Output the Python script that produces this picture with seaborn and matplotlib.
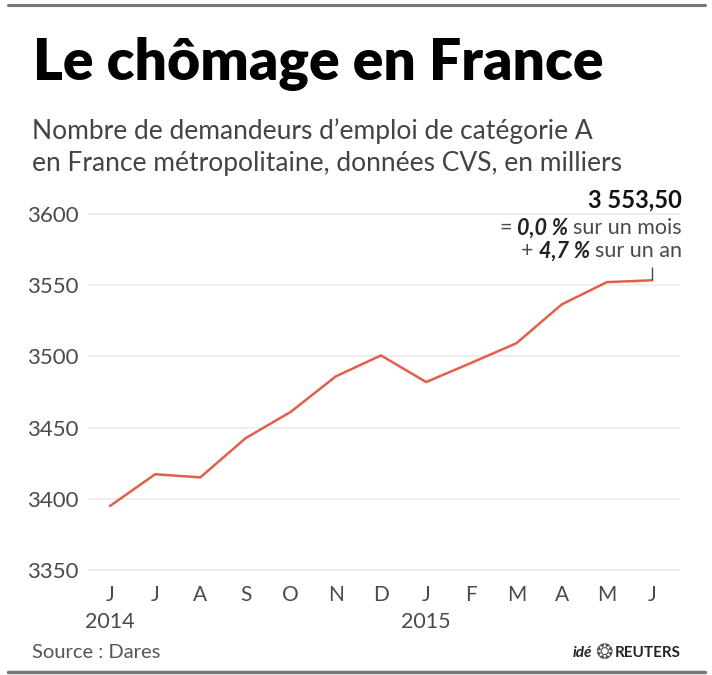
import seaborn as sns
import matplotlib.pyplot as plt
import pandas as pd
from matplotlib.lines import Line2D
from matplotlib.transforms import blended_transform_factory

# données (milliers de demandeurs, juin 2014 - juin 2015)
mois = ['J', 'J', 'A', 'S', 'O', 'N', 'D', 'J', 'F', 'M', 'A', 'M', 'J']
valeurs = [3394.9, 3417.2, 3415.0, 3442.5, 3461.0, 3486.0, 3500.7,
           3482.0, 3495.5, 3509.3, 3536.5, 3552.2, 3553.5]
annees = ['2014', '2015']
annee_pos = [0, 7]
yticks = [3350, 3400, 3450, 3500, 3550, 3600]

df = pd.DataFrame({'idx': range(len(valeurs)), 'val': valeurs})

sns.set_style('white')
plt.rcParams['font.family'] = ['Lato', 'DejaVu Sans']

W, H = 712, 675
fig = plt.figure(figsize=(W / 100, H / 100), dpi=100)


def fx(px):
    return px / W


def fy(py):
    return 1 - py / H


ax = fig.add_axes([fx(88), fy(577), fx(680 - 88), (577 - 207) / H])
sns.lineplot(data=df, x='idx', y='val', ax=ax, color='#e2604a', linewidth=1.8)

ax.set_ylim(3345, 3605)
ax.set_xlim(-0.487, 12.62)
ax.set_yticks(yticks)
ax.set_yticklabels([str(t) for t in yticks])
ax.set_xticks(range(len(mois)))
ax.set_xticklabels(mois)
ax.yaxis.grid(True, color='#ebebeb', linewidth=1.2)
ax.xaxis.grid(False)
for s in ax.spines.values():
    s.set_visible(False)
ax.tick_params(axis='y', length=0, pad=7, labelsize=16, labelcolor='#4a4a4a')
ax.tick_params(axis='x', length=0, pad=6, labelsize=15, labelcolor='#4a4a4a')
ax.set_xlabel('')
ax.set_ylabel('')

# années sous les mois
tr = blended_transform_factory(ax.transData, fig.transFigure)
for a, p in zip(annees, annee_pos):
    ax.text(p, fy(622), a, transform=tr, ha='center', va='center',
            fontsize=15.5, color='#4a4a4a')

# petit trait vers la dernière valeur
ax.vlines(len(valeurs) - 1, valeurs[-1], valeurs[-1] + 9, color='#444444', linewidth=1)

# titres
fig.text(fx(33), fy(64), 'Le chômage en France', fontsize=41, fontweight='heavy',
         ha='left', va='center', color='black')
fig.text(fx(32), fy(131), "Nombre de demandeurs d’emploi de catégorie A", fontsize=19,
         ha='left', va='center', color='#444444')
fig.text(fx(32), fy(163), "en France métropolitaine, données CVS, en milliers", fontsize=19,
         ha='left', va='center', color='#444444')

# annotation
fig.text(fx(682), fy(200), '3 553,50', fontsize=17, fontweight='bold',
         ha='right', va='center', color='#111111')

renderer = fig.canvas.get_renderer()


def right_line(pieces, xr, yc):
    x = xr
    for txt, kw in reversed(pieces):
        opts = {'color': '#4a4a4a', 'fontsize': 15.5}
        opts.update(kw)
        t = fig.text(fx(x), fy(yc), txt, ha='right', va='center', **opts)
        w = t.get_window_extent(renderer).width
        x -= w + 5


right_line([('=', {}),
            ('0,0 %', {'fontweight': 'bold', 'style': 'italic', 'color': '#222222'}),
            ('sur un mois', {})], 682, 228)
right_line([('+', {}),
            ('4,7 %', {'fontweight': 'bold', 'style': 'italic', 'color': '#222222'}),
            ('sur un an', {})], 682, 251)

# pied
fig.text(fx(32), fy(652), 'Source : Dares', fontsize=14.5,
         ha='left', va='center', color='#555555')
fig.text(fx(592), fy(653), 'idé', fontsize=11, fontweight='bold', style='italic',
         ha='right', va='center', color='#222222')
fig.text(fx(604), fy(653), '❂', fontsize=15, family='DejaVu Sans',
         ha='center', va='center', color='#555555')
fig.text(fx(615), fy(653), 'REUTERS', fontsize=11, fontweight='bold',
         ha='left', va='center', color='#222222')

# filets haut et bas
fig.add_artist(Line2D([fx(8), fx(705)], [fy(5), fy(5)], color='#777777', linewidth=2.2))
fig.add_artist(Line2D([fx(8), fx(705)], [fy(672), fy(672)], color='#777777', linewidth=2.5))

fig.savefig('out.png', dpi=100)
